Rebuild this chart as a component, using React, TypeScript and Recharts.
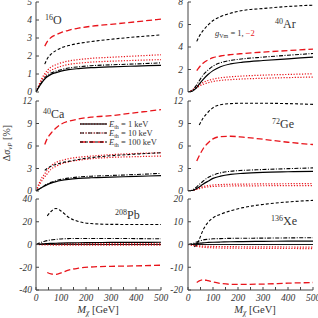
import React from 'react';
import { LineChart, Line, XAxis, YAxis, ReferenceLine } from 'recharts';

const MX = [0, 15, 25, 35, 45, 60, 80, 100, 130, 170, 220, 300, 400, 500];
const X_TICKS = [0, 50, 100, 150, 200, 250, 300, 350, 400, 450, 500];
const N = null;

// 16O
const O16_S1 = [0, 0.35, 0.55, 0.72, 0.85, 0.98, 1.08, 1.16, 1.24, 1.3, 1.35, 1.4, 1.44, 1.48];
const O16_S2 = [0, 0.37, 0.6, 0.78, 0.92, 1.05, 1.16, 1.24, 1.33, 1.4, 1.46, 1.51, 1.56, 1.62];
const O16_S3 = [N, N, N, 1.55, 1.85, 2.1, 2.3, 2.45, 2.58, 2.7, 2.8, 2.93, 3.06, 3.17];
const O16_R1 = [0, 0.45, 0.7, 0.9, 1.05, 1.2, 1.33, 1.43, 1.53, 1.6, 1.66, 1.71, 1.76, 1.8];
const O16_R2 = [0, 0.5, 0.8, 1.02, 1.2, 1.38, 1.52, 1.62, 1.72, 1.8, 1.87, 1.93, 2.0, 2.07];
const O16_R3 = [N, N, N, 2.55, 2.8, 3.03, 3.18, 3.3, 3.43, 3.55, 3.65, 3.76, 3.9, 4.05];

// 40Ar
const AR40_S1 = [0, 0.05, 0.2, 0.4, 0.7, 1.1, 1.55, 1.9, 2.25, 2.5, 2.65, 2.8, 2.95, 3.1];
const AR40_S2 = [0, 0.1, 0.35, 0.65, 1.0, 1.5, 1.95, 2.3, 2.6, 2.8, 2.95, 3.1, 3.27, 3.42];
const AR40_S3 = [N, N, N, 4.5, 4.95, 5.45, 5.95, 6.35, 6.7, 7.0, 7.25, 7.42, 7.6, 7.72];
const AR40_R1 = [0, 0.12, 0.25, 0.4, 0.52, 0.68, 0.82, 0.93, 1.03, 1.1, 1.16, 1.22, 1.28, 1.33];
const AR40_R2 = [0, 0.15, 0.32, 0.5, 0.66, 0.85, 1.02, 1.14, 1.26, 1.35, 1.42, 1.5, 1.56, 1.62];
const AR40_R3 = [N, N, N, 1.9, 2.2, 2.55, 2.85, 3.05, 3.2, 3.32, 3.42, 3.55, 3.68, 3.82];

// 40Ca
const CA40_S1 = [0, 0.3, 0.5, 0.68, 0.85, 1.05, 1.25, 1.4, 1.55, 1.68, 1.77, 1.85, 1.95, 2.05];
const CA40_S2 = [0, 0.32, 0.55, 0.75, 0.93, 1.15, 1.38, 1.55, 1.72, 1.87, 1.97, 2.07, 2.2, 2.35];
const CA40_S3 = [N, N, N, 2.75, 3.0, 3.3, 3.55, 3.75, 3.95, 4.2, 4.45, 4.7, 4.92, 5.1];
const CA40_R1 = [0, 0.9, 1.45, 1.9, 2.3, 2.9, 3.3, 3.6, 3.88, 4.1, 4.3, 4.48, 4.58, 4.66];
const CA40_R2 = [0, 1.2, 1.85, 2.3, 2.8, 3.35, 3.8, 4.05, 4.3, 4.5, 4.65, 4.85, 5.0, 5.1];
const CA40_R3 = [N, N, N, 6.2, 7.0, 7.7, 8.4, 8.9, 9.3, 9.6, 9.85, 10.05, 10.45, 10.85];

// 72Ge
const GE72_S1 = [0, 0.05, 0.15, 0.33, 0.55, 0.9, 1.3, 1.68, 1.98, 2.22, 2.36, 2.49, 2.57, 2.63];
const GE72_S2 = [0, 0.1, 0.28, 0.55, 0.85, 1.3, 1.8, 2.12, 2.42, 2.63, 2.75, 2.86, 2.98, 3.08];
const GE72_S3 = [N, N, N, N, 8.8, 9.7, 10.5, 11.1, 11.5, 11.65, 11.7, 11.7, 11.65, 11.55];
const GE72_R1 = [0, 0.05, 0.12, 0.22, 0.32, 0.45, 0.55, 0.6, 0.65, 0.67, 0.68, 0.7, 0.71, 0.72];
const GE72_R2 = [0, 0.06, 0.15, 0.28, 0.42, 0.6, 0.72, 0.8, 0.86, 0.9, 0.92, 0.95, 0.97, 1.0];
const GE72_R3 = [N, N, N, 4.0, 4.7, 5.6, 6.4, 6.95, 7.25, 7.3, 7.18, 6.9, 6.5, 6.2];

// 208Pb
const PB208_S1 = [0, 0.3, 0.5, 0.65, 0.8, 0.95, 1.1, 1.25, 1.4, 1.55, 1.7, 1.8, 1.9, 2.0];
const PB208_S2 = [0, 1.5, 2.3, 2.9, 3.4, 4.0, 4.5, 4.9, 5.2, 5.3, 5.3, 5.3, 5.2, 5.0];
const PB208_S3 = [N, N, N, N, 25.2, 29.0, 31.7, 29.5, 24.0, 20.2, 18.4, 17.7, 17.6, 17.6];
const PB208_R1 = [0, 0.3, 0.45, 0.55, 0.6, 0.65, 0.7, 0.7, 0.7, 0.7, 0.7, 0.7, 0.7, 0.7];
const PB208_R2 = [0, -0.2, -0.3, -0.35, -0.4, -0.45, -0.5, -0.5, -0.55, -0.55, -0.6, -0.6, -0.6, -0.6];
const PB208_R3 = [N, N, N, N, -24.6, -25.8, -26.2, -25.0, -22.5, -20.8, -19.8, -19.2, -18.8, -18.2];

// 136Xe
const XE136_S1 = [0, 0.1, 0.25, 0.4, 0.55, 0.75, 0.9, 1.0, 1.1, 1.2, 1.3, 1.4, 1.45, 1.5];
const XE136_S2 = [0, 0.3, 0.7, 1.1, 1.5, 2.0, 2.3, 2.5, 2.6, 2.7, 2.75, 2.8, 2.9, 3.0];
const XE136_S3 = [N, N, -1.0, -0.1, 2.2, 6.3, 9.7, 11.7, 13.3, 14.8, 16.2, 17.6, 18.7, 19.4];
const XE136_R1 = [0, -0.2, -0.35, -0.5, -0.6, -0.7, -0.8, -0.85, -0.9, -0.95, -1.0, -1.05, -1.1, -1.15];
const XE136_R2 = [0, -0.3, -0.55, -0.8, -1.0, -1.2, -1.35, -1.45, -1.55, -1.6, -1.65, -1.7, -1.75, -1.8];
const XE136_R3 = [N, N, N, -16.7, -16.0, -15.5, -15.9, -16.5, -17.1, -17.5, -17.5, -17.4, -17.0, -16.7];

const Y_O16 = [0, 1, 2, 3, 4, 5];
const Y_AR40 = [0, 2, 4, 6, 8];
const Y_CA40 = [0, 3, 6, 9, 12];
const Y_GE72 = [0, 3, 6, 9, 12];
const Y_PB208 = [-40, -20, 0, 20, 40];
const Y_XE136 = [-20, -10, 0, 10, 20];

const FONT = '"Liberation Serif", "DejaVu Serif", serif';
const AX = '#444';
const TXT = '#333';
const RED = '#e8141b';

type Spec = {
  left: number;
  top: number;
  plotH: number;
  bottom: boolean;
  yTicks: number[];
  tickMargin: number;
  zero: boolean;
  s: (number | null)[][];
};

const STYLES = [
  { key: 'r1', color: RED, dash: '1.2 1.6', w: 1.2 },
  { key: 'r2', color: RED, dash: '1.2 1.6', w: 1.2 },
  { key: 'r3', color: RED, dash: '6 3', w: 1.3 },
  { key: 's1', color: '#000', dash: undefined, w: 1.2 },
  { key: 's2', color: '#000', dash: '4 1.5 1 1.5', w: 1.1 },
  { key: 's3', color: '#000', dash: '3 2', w: 1.1 },
];

const PAD = 8;

function Panel({ spec }: { spec: Spec }) {
  const [s1, s2, s3, r1, r2, r3] = spec.s;
  const data = MX.map((m, i) => ({ m, s1: s1[i], s2: s2[i], s3: s3[i], r1: r1[i], r2: r2[i], r3: r3[i] }));
  const dom: [number, number] = [spec.yTicks[0], spec.yTicks[spec.yTicks.length - 1]];
  const tickStyle = { fontSize: 9.5, fontFamily: FONT, fontStyle: 'italic', fill: TXT };
  const xh = spec.bottom ? 20 : 0;
  const h = PAD + spec.plotH + xh + PAD;
  return (
    <div style={{ position: 'absolute', left: spec.left, top: spec.top - PAD }}>
      <LineChart width={36 + 125 + 14} height={h} data={data} margin={{ top: PAD, right: 14, bottom: PAD, left: 0 }}>
        <XAxis
          dataKey="m"
          type="number"
          domain={[0, 500]}
          allowDataOverflow
          ticks={X_TICKS}
          interval={0}
          tickSize={-3}
          tickMargin={7}
          height={xh}
          tick={spec.bottom ? tickStyle : false}
          tickFormatter={(v: number) => (v % 100 === 0 ? String(v) : '')}
          stroke={AX}
        />
        <XAxis
          xAxisId="t"
          orientation="top"
          dataKey="m"
          type="number"
          domain={[0, 500]}
          allowDataOverflow
          ticks={X_TICKS}
          interval={0}
          tickSize={-3}
          height={0}
          tick={false}
          stroke={AX}
        />
        <YAxis
          type="number"
          domain={dom}
          allowDataOverflow
          ticks={spec.yTicks}
          interval={0}
          tickSize={-3}
          tickMargin={spec.tickMargin}
          width={36}
          tick={tickStyle}
          stroke={AX}
        />
        <YAxis
          yAxisId="r"
          orientation="right"
          type="number"
          domain={dom}
          allowDataOverflow
          ticks={spec.yTicks}
          interval={0}
          tickSize={-3}
          width={0}
          tick={false}
          stroke={AX}
        />
        {spec.zero && <ReferenceLine y={0} stroke="#000" strokeWidth={0.9} />}
        {STYLES.map((st) => (
          <Line
            key={st.key}
            dataKey={st.key}
            type="monotone"
            stroke={st.color}
            strokeWidth={st.w}
            strokeDasharray={st.dash}
            dot={false}
            activeDot={false}
            isAnimationActive={false}
            connectNulls={false}
          />
        ))}
      </LineChart>
    </div>
  );
}

const PANELS: Spec[] = [
  { left: 0, top: 2, plotH: 90, bottom: false, yTicks: Y_O16, tickMargin: 7, zero: false, s: [O16_S1, O16_S2, O16_S3, O16_R1, O16_R2, O16_R3] },
  { left: 152, top: 2, plotH: 90, bottom: false, yTicks: Y_AR40, tickMargin: 8, zero: false, s: [AR40_S1, AR40_S2, AR40_S3, AR40_R1, AR40_R2, AR40_R3] },
  { left: 0, top: 101, plotH: 90, bottom: false, yTicks: Y_CA40, tickMargin: 7, zero: false, s: [CA40_S1, CA40_S2, CA40_S3, CA40_R1, CA40_R2, CA40_R3] },
  { left: 152, top: 101, plotH: 90, bottom: false, yTicks: Y_GE72, tickMargin: 8, zero: false, s: [GE72_S1, GE72_S2, GE72_S3, GE72_R1, GE72_R2, GE72_R3] },
  { left: 0, top: 199, plotH: 91, bottom: true, yTicks: Y_PB208, tickMargin: 7, zero: true, s: [PB208_S1, PB208_S2, PB208_S3, PB208_R1, PB208_R2, PB208_R3] },
  { left: 152, top: 199, plotH: 91, bottom: true, yTicks: Y_XE136, tickMargin: 8, zero: true, s: [XE136_S1, XE136_S2, XE136_S3, XE136_R1, XE136_R2, XE136_R3] },
];

const NUCLEI = [
  { a: '16', el: 'O', x: 45, y: 24 },
  { a: '40', el: 'Ar', x: 275, y: 28 },
  { a: '40', el: 'Ca', x: 43, y: 118 },
  { a: '72', el: 'Ge', x: 272, y: 128 },
  { a: '208', el: 'Pb', x: 115, y: 219 },
  { a: '136', el: 'Xe', x: 271, y: 225 },
];

const LEGEND = [
  { e: '1', black: STYLES[3], red: STYLES[0] },
  { e: '10', black: STYLES[4], red: STYLES[1] },
  { e: '100', black: STYLES[5], red: STYLES[2] },
];

function Overlay() {
  return (
    <svg width={318} height={318} style={{ position: 'absolute', left: 0, top: 0, pointerEvents: 'none' }} fontFamily={FONT}>
      {NUCLEI.map((n) => (
        <text key={n.a + n.el} x={n.x} y={n.y} fill={TXT} fontSize={12}>
          <tspan fontSize={8} dy={-4.5}>{n.a}</tspan>
          <tspan dy={4.5}>{n.el}</tspan>
        </text>
      ))}
      <text x={215} y={36} fontSize={8.5} fill={TXT}>
        <tspan fontStyle="italic">g</tspan>
        <tspan fontSize={6} dy={2}>Vm</tspan>
        <tspan dy={-2}> = 1, </tspan>
        <tspan fill={RED}>−2</tspan>
      </text>
      {LEGEND.map((l, i) => {
        const y = 124 + i * 9;
        return (
          <g key={l.e}>
            <line x1={80} x2={107} y1={y} y2={y} stroke={l.red.color} strokeWidth={l.red.w} strokeDasharray={l.red.dash} />
            <line x1={80} x2={107} y1={y} y2={y} stroke={l.black.color} strokeWidth={l.black.w} strokeDasharray={l.black.dash} />
            <text x={109} y={y + 3} fontSize={8.5} fill={TXT}>
              <tspan fontStyle="italic">E</tspan>
              <tspan fontSize={6} dy={1.8}>th</tspan>
              <tspan dy={-1.8}>{' = ' + l.e + ' keV'}</tspan>
            </text>
          </g>
        );
      })}
      <text transform="translate(10,143) rotate(-90)" textAnchor="middle" fontSize={10} fill={TXT}>
        <tspan>Δ</tspan>
        <tspan fontStyle="italic">σ</tspan>
        <tspan fontSize={7} dy={2} fontStyle="italic">νP</tspan>
        <tspan dy={-2}> [%]</tspan>
      </text>
      {[98, 255].map((cx) => (
        <text key={cx} x={cx} y={313} textAnchor="middle" fontSize={10.5} fill={TXT}>
          <tspan fontStyle="italic">M</tspan>
          <tspan fontSize={7.5} dy={2} fontStyle="italic">χ</tspan>
          <tspan dy={-2}> [GeV]</tspan>
        </text>
      ))}
    </svg>
  );
}

export default function App() {
  return (
    <div style={{ position: 'absolute', left: 0, top: 0, width: 318, height: 318, background: '#fff', overflow: 'hidden' }}>
      {PANELS.map((p, i) => (
        <Panel key={i} spec={p} />
      ))}
      <Overlay />
    </div>
  );
}
